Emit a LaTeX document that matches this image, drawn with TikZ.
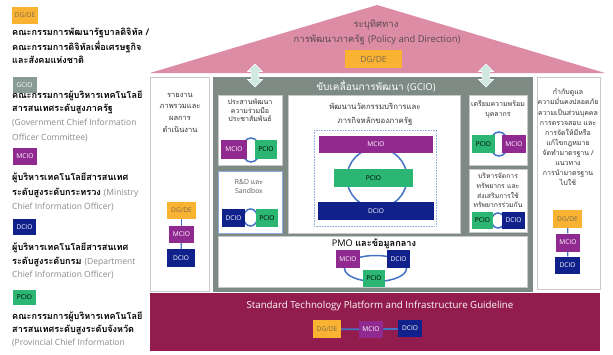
\documentclass[tikz,border=0pt]{standalone}
\usepackage{fontspec}
\setmainfont{Open Sans}
\newfontfamily\thaif[Script=Thai]{Loma}
\usetikzlibrary{shapes.arrows}
\definecolor{dgde}{HTML}{F9B232}
\definecolor{dgdet}{HTML}{7A6A50}
\definecolor{gcio}{HTML}{8A9B94}
\definecolor{mcio}{HTML}{912A90}
\definecolor{dcio}{HTML}{10218B}
\definecolor{pcio}{HTML}{2BB673}
\definecolor{ringc}{HTML}{4472C4}
\definecolor{roofc}{HTML}{DC8CA4}
\definecolor{gbox}{HTML}{7E8B85}
\definecolor{maroonc}{HTML}{921C4E}
\definecolor{mint}{HTML}{CFE9E2}
\definecolor{boxline}{HTML}{C8C8C8}
\definecolor{bluebox}{HTML}{8FAADC}
\definecolor{txt}{HTML}{333333}
\definecolor{lgray}{HTML}{8A8A8A}
\definecolor{rooft}{HTML}{5A4A52}
\tikzset{
  badge/.style={inner sep=0pt, font=\fontsize{6.6}{7}\selectfont},
  bg/.style={badge, fill=dgde, text=dgdet},
  bm/.style={badge, fill=mcio, text=white},
  bd/.style={badge, fill=dcio, text=white},
  bp/.style={badge, fill=pcio, text=black},
  bgc/.style={badge, fill=gcio, text=white},
  ringline/.style={draw=ringc, line width=1.5pt},
  link/.style={draw=ringc, line width=1.8pt},
  legth/.style={anchor=base west, inner sep=0pt, text=black, font=\thaif\bfseries\fontsize{9.1}{11}\selectfont},
  legen/.style={anchor=base west, inner sep=0pt, text=lgray, font=\fontsize{8.5}{10}\selectfont},
  wbox/.style={fill=white, draw=boxline, line width=0.8pt},
  boxtxt/.style={align=center, inner sep=0pt, text=txt},
  darr/.style={double arrow, rotate=90, fill=mint, draw=white, line width=0.6pt, inner sep=3pt, minimum height=23pt, minimum width=15pt, double arrow head extend=3pt}
}
\begin{document}
\begin{tikzpicture}[x=1pt,y=-1pt]
\useasboundingbox (0,0) rectangle (613,354);
\fill[white] (0,0) rectangle (613,354);
% ---------- legend ----------
\node[bg, minimum width=26pt, minimum height=17pt] (lg1) at (25,15.5) {DG/DE};
\node[legth] (t1) at (12,35) {คณะกรรมการพัฒนารัฐบาลดิจิทัล /};
\node[legth] (t2) at (12,50) {คณะกรรมการดิจิทัลเพื่อเศรษฐกิจ};
\node[legth] (t3) at (12,63) {และสังคมแห่งชาติ};
\node[bgc, minimum width=24pt, minimum height=16pt] (lg2) at (24.5,85) {GCIO};
\node[legth] (t4) at (12,98) {คณะกรรมการผู้บริหารเทคโนโลยี};
\node[legth] (t5) at (12,111) {สารสนเทศระดับสูงภาครัฐ};
\node[legen] (t6) at (12,125) {(Government Chief Information};
\node[legen] (t7) at (12,140) {Officer Committee)};
\node[bm, minimum width=24pt, minimum height=17pt] (lg3) at (25,156.5) {MCIO};
\node[legth] (t8) at (12,180) {ผู้บริหารเทคโนโลยีสารสนเทศ};
\node[legth] (t9) at (12,195) {ระดับสูงระดับกระทรวง {\normalfont\color{lgray}\fontsize{8.5}{10}\selectfont (Ministry}};
\node[legen] (t10) at (12,209) {Chief Information Officer)};
\node[bd, minimum width=23pt, minimum height=16pt] (lg4) at (24.5,227) {DCIO};
\node[legth] (t11) at (12,250) {ผู้บริหารเทคโนโลยีสารสนเทศ};
\node[legth] (t12) at (12,264) {ระดับสูงระดับกรม {\normalfont\color{lgray}\fontsize{8.5}{10}\selectfont (Department}};
\node[legen] (t13) at (12,277) {Chief Information Officer)};
\node[bp, minimum width=23pt, minimum height=15pt] (lg5) at (24.5,297.5) {PCIO};
\node[legth] (t14) at (12,319) {คณะกรรมการผู้บริหารเทคโนโลยี};
\node[legth] (t15) at (12,332) {สารสนเทศระดับสูงระดับจังหวัด};
\node[legen] (t16) at (12,345) {(Provincial Chief Information};
% ---------- roof ----------
\fill[roofc] (150,73) -- (377,5) -- (605,73) -- cycle;
\node[inner sep=0pt, text=rooft, font=\thaif\fontsize{9.5}{10}\selectfont] (r1) at (376,25) {ระบุทิศทาง};
\node[inner sep=0pt, text=rooft, font=\thaif\fontsize{9.5}{10}\selectfont] (r2) at (377,40) {การพัฒนาภาครัฐ {\normalfont\fontsize{9.4}{10}\selectfont (Policy and Direction)}};
\node[bg, minimum width=57pt, minimum height=18pt, font=\fontsize{8.5}{9}\selectfont] (rd) at (373.5,59) {DG/DE};
% ---------- pillars ----------
\fill[white] (150,74) rectangle (605,77);
\draw[wbox] (150.5,77) rectangle (209,291);
\fill[gbox] (213,77) rectangle (533,292);
\draw[wbox] (537,77) rectangle (600,289);
\node[darr] (a1) at (255,75.5) {};
\node[darr] (a2) at (486,75.5) {};
\node[inner sep=0pt, text=white, font=\thaif\fontsize{10}{11}\selectfont] (gt) at (376,86) {ขับเคลื่อนการพัฒนา {\normalfont\fontsize{9.5}{10}\selectfont (GCIO)}};
% left box
\node[boxtxt, font=\thaif\fontsize{7.5}{11.7}\selectfont] (lt) at (180,112.5) {รายงาน\\ภาพรวมและ\\ผลการ\\ดำเนินงาน};
\node[bg, minimum width=29pt, minimum height=17pt] (lb1) at (181.5,210.5) {DG/DE};
\node[bm, minimum width=25pt, minimum height=17pt] (lb2) at (181.5,234.5) {MCIO};
\node[bd, minimum width=28pt, minimum height=18pt] (lb3) at (181,258) {DCIO};
\draw[link, line width=1.2pt] (lb1) -- (lb2);
\draw[link, line width=1.2pt] (lb2) -- (lb3);
% right box
\node[boxtxt, font=\thaif\fontsize{7}{10.1}\selectfont] (rt) at (568,137.5) {กำกับดูแล\\ความมั่นคงปลอดภัย\\ความเป็นส่วนบุคคล\\การตรวจสอบ และ\\การจัดให้มีหรือ\\แก้ไขกฎหมาย\\จัดทำมาตรฐาน /\\แนวทาง\\การนำมาตรฐาน\\ไปใช้};
\node[bg, minimum width=29pt, minimum height=18pt] (rb1) at (567.5,219) {DG/DE};
\node[bm, minimum width=24pt, minimum height=18pt] (rb2) at (568,242.5) {MCIO};
\node[bd, minimum width=25pt, minimum height=17pt] (rb3) at (567.5,265) {DCIO};
\draw[link, line width=1.2pt] (rb1) -- (rb2);
\draw[link, line width=1.2pt] (rb2) -- (rb3);
% ---------- inner boxes ----------
% B1
\draw[wbox] (218,95) rectangle (282,165);
\node[boxtxt, font=\thaif\fontsize{7}{8.5}\selectfont] (b1t) at (250,110.5) {ประสานพัฒนา\\ความร่วมมือ\\ประชาสัมพันธ์};
\draw[ringline] (251,150) ellipse [x radius=9pt, y radius=12pt];
\node[bm, minimum width=26pt, minimum height=19pt] (b1m) at (234,149.5) {MCIO};
\node[bp, minimum width=22pt, minimum height=19pt] (b1p) at (266,149.5) {PCIO};
% B2
\draw[fill=white, draw=bluebox, line width=0.8pt] (218,171) rectangle (282,233);
\node[boxtxt, text=txt!80, font=\fontsize{6.8}{9}\selectfont] (b2t) at (249,186.5) {R\&D {\thaif และ}\\Sandbox};
\draw[ringline] (250.5,217.5) ellipse [x radius=7pt, y radius=8.5pt];
\node[bd, minimum width=23pt, minimum height=18pt] (b2d) at (233.5,218) {DCIO};
\node[bp, minimum width=22pt, minimum height=18pt] (b2p) at (267,218) {PCIO};
% B3
\draw[wbox] (288,95) rectangle (460,233);
\node[boxtxt, font=\thaif\fontsize{7.8}{14}\selectfont] (b3t) at (375,114) {พัฒนานวัตกรรมบริการและ\\ภารกิจหลักของภาครัฐ};
\draw[bluebox, densely dotted, line width=0.6pt] (314,130) rectangle (436,226);
\draw[ringline] (377,178) circle [radius=30pt];
\node[bm, minimum width=114pt, minimum height=17pt] (b3m) at (376,144.5) {MCIO};
\node[bp, minimum width=79pt, minimum height=18pt] (b3p) at (373.5,178) {PCIO};
\node[bd, minimum width=116pt, minimum height=18pt] (b3d) at (376,211) {DCIO};
% B4
\draw[wbox] (469,95) rectangle (527,165);
\node[boxtxt, font=\thaif\fontsize{7}{10}\selectfont] (b4t) at (498,109) {เตรียมความพร้อม\\บุคลากร};
\draw[ringline] (499,144) ellipse [x radius=9pt, y radius=12pt];
\node[bp, minimum width=23pt, minimum height=18pt] (b4p) at (483.5,144) {PCIO};
\node[bm, minimum width=24pt, minimum height=18pt] (b4m) at (514,144) {MCIO};
% B5
\draw[wbox] (469,169) rectangle (527,232);
\node[boxtxt, font=\thaif\fontsize{6.8}{9.7}\selectfont] (b5t) at (498,190.5) {บริหารจัดการ\\ทรัพยากร และ\\ส่งเสริมการใช้\\ทรัพยากรร่วมกัน};
\draw[ringline] (498,220.5) ellipse [x radius=6.5pt, y radius=7.5pt];
\node[bp, minimum width=21pt, minimum height=17pt] (b5p) at (482.5,220.5) {PCIO};
\node[bd, minimum width=23pt, minimum height=17pt] (b5d) at (513.5,220.5) {DCIO};
% B6
\draw[wbox] (218,236) rectangle (527,287);
\node[inner sep=0pt, text=black, font=\fontsize{9.2}{10}\selectfont] (b6t) at (374,243.5) {PMO {\thaif\bfseries และข้อมูลกลาง}};
\draw[ringline] (375.5,268.5) ellipse [x radius=31pt, y radius=13pt];
\node[bm, minimum width=24pt, minimum height=18pt] (b6m) at (348,259) {MCIO};
\node[bd, minimum width=23pt, minimum height=18pt] (b6d) at (398.5,259) {DCIO};
\node[bp, minimum width=22pt, minimum height=17pt] (b6p) at (374,278.5) {PCIO};
% ---------- base ----------
\fill[maroonc] (150,293) rectangle (600,351);
\node[inner sep=0pt, text=white!90!pink, font=\fontsize{9.7}{10}\selectfont] (bt) at (380,306) {Standard Technology Platform and Infrastructure Guideline};
\node[bg, minimum width=28pt, minimum height=18pt] (bb1) at (327,329) {DG/DE};
\node[bm, minimum width=24pt, minimum height=17pt] (bb2) at (371,329.5) {MCIO};
\node[bd, minimum width=24pt, minimum height=17pt] (bb3) at (410,328.5) {DCIO};
\draw[link] (bb1) -- (bb2);
\draw[link] (bb2) -- (bb3);
\end{tikzpicture}
\end{document}
